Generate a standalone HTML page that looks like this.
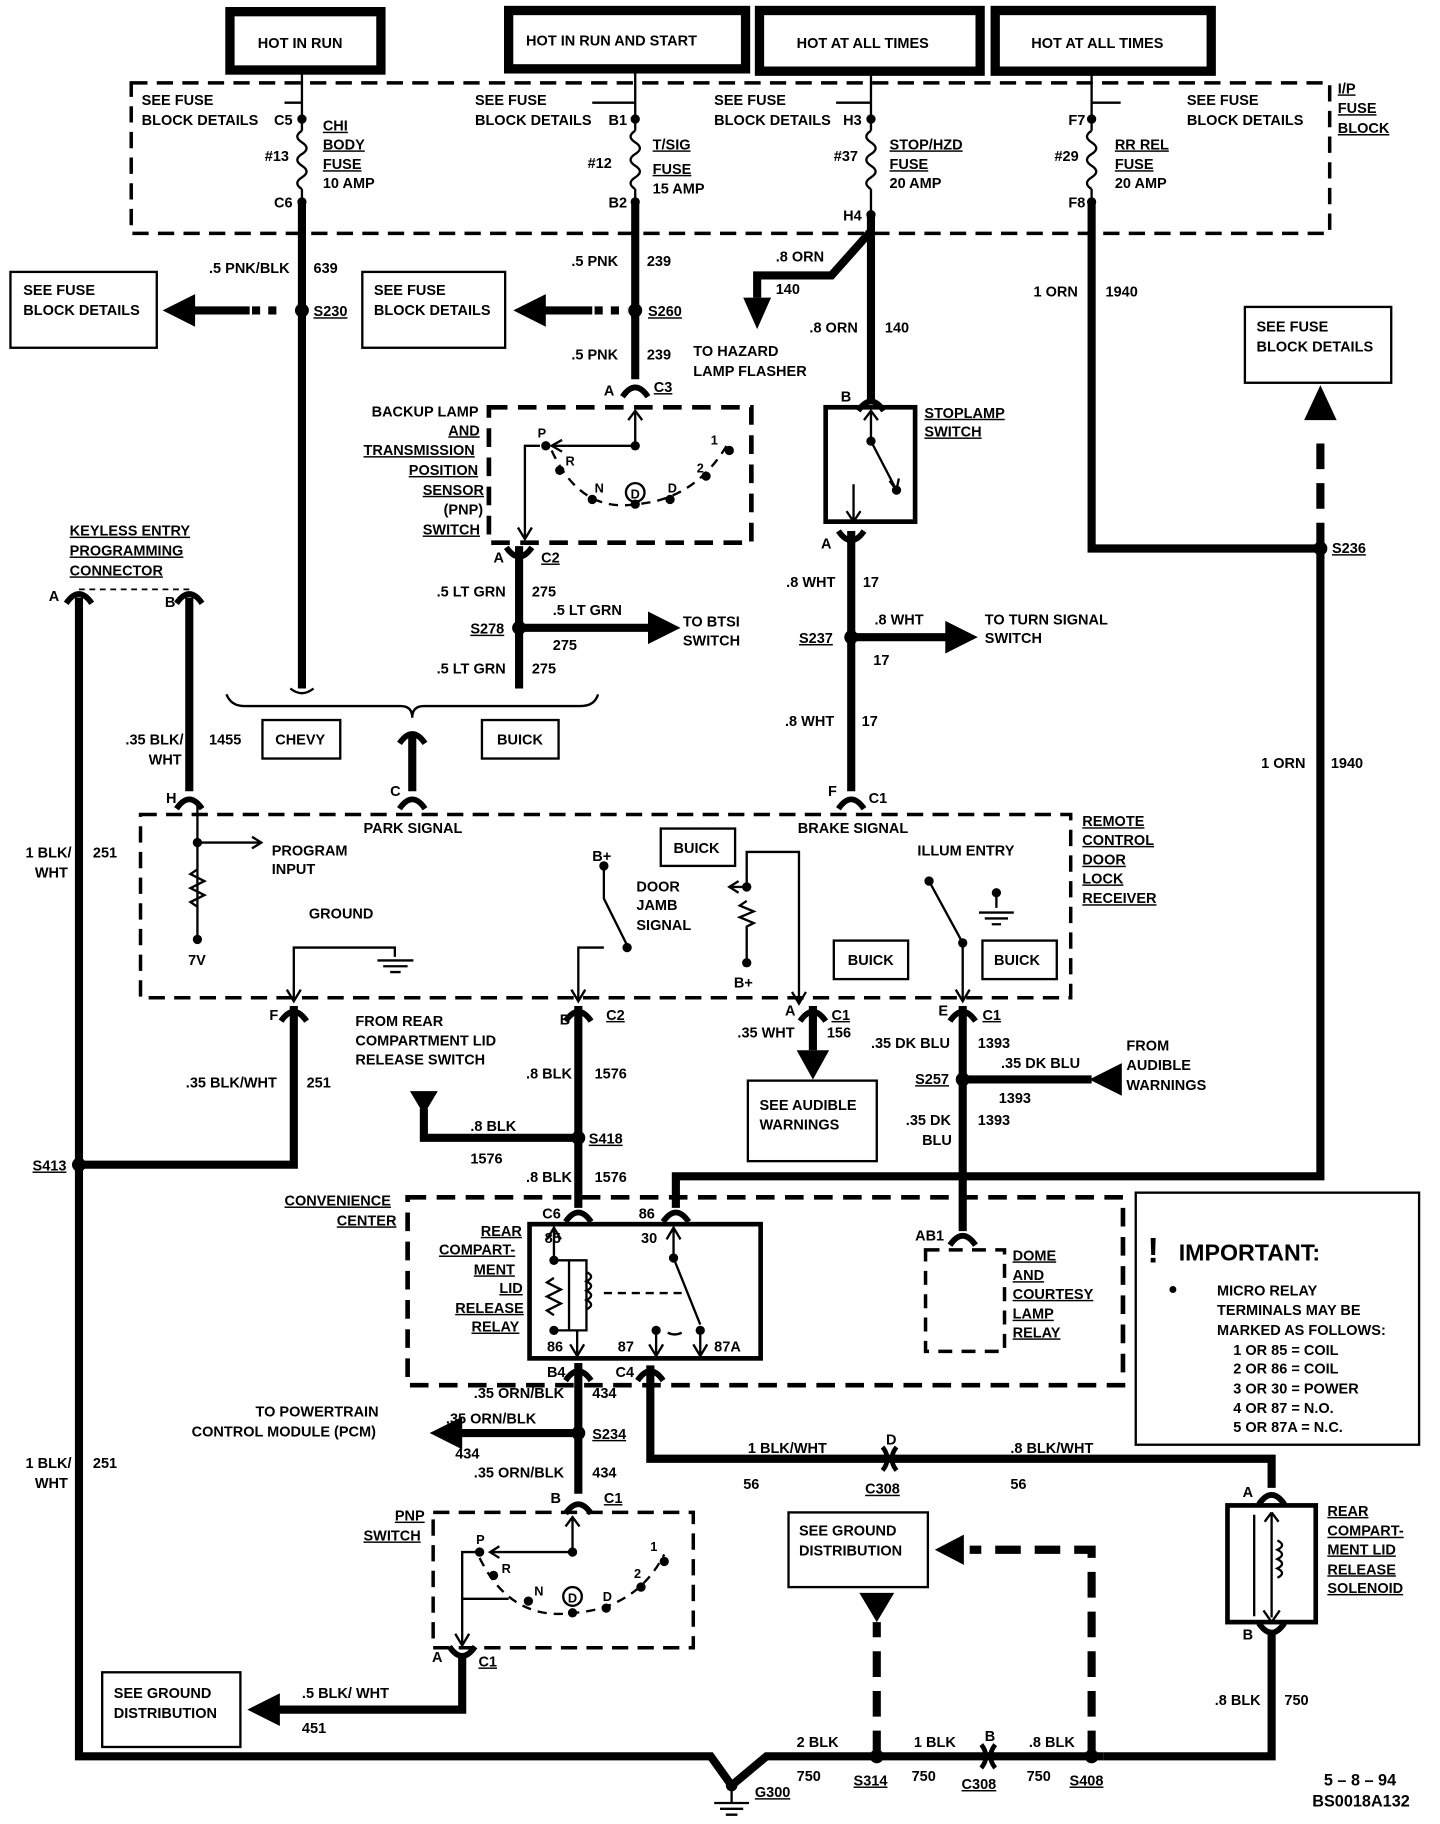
<!DOCTYPE html>
<html><head><meta charset="utf-8"><style>
html,body{margin:0;padding:0;background:#fff}
svg{display:block}
text{font-family:"Liberation Sans",sans-serif;font-weight:bold;font-size:12.5px;fill:#000}
.u{text-decoration:underline}
.s{font-size:11px}
</style></head><body>
<svg width="1440" height="1824" viewBox="0 0 1240 1563" preserveAspectRatio="none" xmlns="http://www.w3.org/2000/svg">
<defs>
<path id="up" d="M-11,7 Q0,-9 11,7" fill="none" stroke="#000" stroke-width="5"/>
<path id="dn" d="M-11,-7 Q0,9 11,-7" fill="none" stroke="#000" stroke-width="5"/>
<path id="fuse" d="M0,0 q-8,5 0,10 q8,5 0,10 q-8,5 0,10 q8,5 0,10 q-8,5 0,10" fill="none" stroke="#000" stroke-width="2"/>
</defs>
<g fill="none" stroke="#000">
<rect x="198" y="10" width="130" height="50" stroke-width="8"/>
<rect x="438" y="9" width="204" height="50" stroke-width="8"/>
<rect x="654" y="9" width="190" height="52" stroke-width="8"/>
<rect x="857" y="9" width="186" height="52" stroke-width="8"/>
<g stroke-width="2">
<line x1="260" y1="62" x2="260" y2="102"/><line x1="547" y1="60" x2="547" y2="102"/>
<line x1="750" y1="61" x2="750" y2="102"/><line x1="940" y1="61" x2="940" y2="102"/>
<line x1="260" y1="102" x2="260" y2="112"/><line x1="260" y1="162" x2="260" y2="173"/>
<line x1="547" y1="102" x2="547" y2="112"/><line x1="547" y1="162" x2="547" y2="173"/>
<line x1="750" y1="102" x2="750" y2="112"/><line x1="750" y1="162" x2="750" y2="184"/>
<line x1="940" y1="102" x2="940" y2="112"/><line x1="940" y1="162" x2="940" y2="173"/>
<line x1="260" y1="88" x2="245" y2="88"/><line x1="547" y1="88" x2="510" y2="88"/>
<line x1="750" y1="88" x2="720" y2="88"/><line x1="940" y1="88" x2="965" y2="88"/>
</g>
<use href="#fuse" x="260" y="112"/><use href="#fuse" x="547" y="112"/><use href="#fuse" x="750" y="112"/><use href="#fuse" x="940" y="112"/>
<rect x="113" y="71" width="1032" height="129" stroke-width="3" stroke-dasharray="14,8"/>
<g stroke-width="7">
<path d="M260,173 V590"/>
<path d="M547,173 V325"/>
<path d="M750,184 V345"/>
<path d="M750,198 L716,236 H652 V255"/>
<path d="M940,173 V470 H1137 V1008 H582 V1035"/>
<path d="M1137,470 V380" stroke-dasharray="22,12"/>
<path d="M447,468 V590"/>
<path d="M447,538 H560"/>
<path d="M733,455 V678"/>
<path d="M733,546 H815"/>
<path d="M355,630 V678"/>
<path d="M163,512 V678"/>
<path d="M68,512 V1505 L612,1505 L630,1530 L660,1505 H950"/>
<path d="M253,862 V998 H68"/>
<path d="M498,862 V1035"/>
<path d="M498,975 H365 V950"/>
<path d="M829,862 V1055"/>
<path d="M829,925 H940"/>
<path d="M700,862 V900"/>
<path d="M498,1168 V1280"/>
<path d="M498,1228 H390"/>
<path d="M560,1170 V1250 H1095 V1275"/>
<path d="M1095,1398 V1505 H950"/>
<path d="M940,1505 V1328 H835" stroke-dasharray="22,12"/>
<path d="M755,1505 V1390" stroke-dasharray="22,12"/>
<path d="M398,1420 V1465 H240"/>
<path d="M245,266 H165"/><path d="M540,266 H465"/>
</g>
<path d="M245,266 H215" stroke="#fff" stroke-width="8" stroke-dasharray="7,7"/>
<path d="M540,266 H510" stroke="#fff" stroke-width="8" stroke-dasharray="7,7"/>
<path d="M68,505 H163" stroke-width="1.5" stroke-dasharray="5,4"/>
<path d="M195,595 q4,10 15,10 H345 q10,0 10,10 q0,-10 10,-10 H500 q12,0 15,-10" stroke-width="2"/>
<path d="M250,590 q10,8 20,0" stroke-width="2"/>
<rect x="226" y="617" width="67" height="33" stroke-width="2"/>
<rect x="415" y="617" width="66" height="33" stroke-width="2"/>
<rect x="9" y="233" width="126" height="65" stroke-width="2"/>
<rect x="312" y="233" width="123" height="65" stroke-width="2"/>
<rect x="1072" y="263" width="126" height="65" stroke-width="2"/>
<rect x="421" y="349" width="226" height="116" stroke-width="4" stroke-dasharray="16,9"/>
<rect x="711" y="349" width="77" height="98" stroke-width="4"/>
<rect x="121" y="698" width="801" height="157" stroke-width="3" stroke-dasharray="14,8"/>
<rect x="569" y="710" width="64" height="32" stroke-width="2"/>
<rect x="718" y="806" width="64" height="33" stroke-width="2"/>
<rect x="846" y="806" width="64" height="33" stroke-width="2"/>
<rect x="644" y="926" width="111" height="69" stroke-width="2"/>
<rect x="351" y="1026" width="616" height="161" stroke-width="4" stroke-dasharray="16,9"/>
<rect x="456" y="1049" width="199" height="115" stroke-width="4"/>
<rect x="797" y="1071" width="68" height="87" stroke-width="3" stroke-dasharray="12,8"/>
<rect x="978" y="1022" width="244" height="216" stroke-width="2"/>
<rect x="373" y="1296" width="224" height="116" stroke-width="3" stroke-dasharray="14,8"/>
<rect x="1057" y="1290" width="76" height="100" stroke-width="4"/>
<rect x="679" y="1296" width="120" height="64" stroke-width="2"/>
<rect x="88" y="1433" width="119" height="64" stroke-width="2"/>
<g stroke-width="2">
<path d="M547,382 V352 M541,360 L547,352 L553,360"/>
<path d="M547,382 H475 M484,377 L475,382 L484,387"/>
<path d="M465,382 H452 V462 M446,452 L452,462 L458,452"/>
<path d="M475,386 Q500,440 548,432 Q600,428 628,378" stroke-dasharray="8,6"/>
<circle cx="547" cy="422" r="8"/>
<path d="M750,352 V378 M744,360 L750,352 L756,360"/>
<path d="M750,378 L772,420 M766,412 L772,420 L774,410"/>
<path d="M735,415 V447 M729,438 L735,447 L741,438"/>
<path d="M170,690 V805 M170,722 H225 M217,717 L225,722 L217,727"/>
<path d="M170,745 l-6,4 l12,6 l-12,6 l12,6 l-12,6 l6,4"/>
<path d="M253,858 V812 H340 V820 M325,823 H356 M330,828 H351 M336,833 H345"/>
<path d="M247,848 L253,858 L259,848"/>
<path d="M520,742 V770 L540,810"/>
<path d="M520,812 H498 V858 M492,848 L498,858 L504,848"/>
<path d="M643,760 V730 H688 V860 M682,850 L688,860 L694,850"/>
<path d="M643,760 H628 M636,755 L628,760 L636,765"/>
<path d="M643,772 l-6,4 l12,5 l-12,5 l12,5 l-6,3 V825"/>
<path d="M800,755 L829,808 V858 M823,848 L829,858 L835,848"/>
<path d="M858,765 V778 M843,782 H873 M848,787 H868 M854,792 H862"/>
<path d="M477,1052 V1080 M471,1062 L477,1052 L483,1062"/>
<path d="M477,1080 H490 V1140 H477 M490,1080 H505 V1140 H490"/>
<path d="M477,1095 l-6,4 l12,6 l-12,6 l12,6 l-12,6 l6,4"/>
<path d="M505,1090 q8,4 0,8 q8,4 0,8 q8,4 0,8 q8,4 0,8"/>
<path d="M497,1140 V1162 M491,1152 L497,1162 L503,1152"/>
<path d="M520,1108 H590" stroke-dasharray="7,5"/>
<path d="M580,1052 V1078 M574,1062 L580,1052 L586,1062"/>
<path d="M580,1078 L603,1135"/>
<path d="M565,1140 V1162 M559,1152 L565,1162 L571,1152"/>
<path d="M603,1140 V1162 M597,1152 L603,1162 L609,1152"/>
<path d="M575,1142 q6,3 12,0"/>
<path d="M493,1330 V1300 M487,1308 L493,1300 L499,1308"/>
<path d="M493,1330 H422 M430,1325 L422,1330 L430,1335"/>
<path d="M413,1330 H398 V1410 M392,1400 L398,1410 L404,1400"/>
<path d="M413,1335 Q440,1390 495,1382 Q548,1378 572,1332" stroke-dasharray="8,6"/>
<circle cx="493" cy="1368" r="8"/>
<path d="M398,1370 H438"/>
<path d="M1095,1298 V1386 M1095,1296 l-6,8 M1095,1296 l6,8 M1088,1380 l7,10 l7,-10"/>
<path d="M1100,1320 q8,4 0,8 q8,4 0,8 q8,4 0,8 q8,4 0,8"/>
<path d="M1080,1298 V1385"/>
<path d="M630,1530 V1545 M615,1545 H645 M620,1550 H640 M625,1555 H635"/>
</g>
<g>
<use href="#up" x="547" y="333"/><use href="#up" x="750" y="345"/><use href="#dn" x="447" y="476"/>
<use href="#dn" x="733" y="462"/><use href="#up" x="68" y="510"/><use href="#up" x="163" y="510"/>
<use href="#up" x="355" y="630"/><use href="#up" x="163" y="686"/><use href="#up" x="355" y="686"/>
<use href="#up" x="733" y="686"/><use href="#up" x="253" y="868"/><use href="#up" x="498" y="868"/>
<use href="#up" x="700" y="868"/><use href="#up" x="829" y="868"/><use href="#up" x="498" y="1040"/>
<use href="#up" x="582" y="1040"/><use href="#up" x="829" y="1060"/><use href="#up" x="498" y="1176"/>
<use href="#up" x="560" y="1176"/><use href="#up" x="498" y="1290"/><use href="#dn" x="398" y="1418"/>
<use href="#up" x="1095" y="1282"/><use href="#dn" x="1095" y="1398"/>
</g>
<path d="M760,1240 q8,10 0,20 M772,1240 q-8,10 0,20" fill="none" stroke="#000" stroke-width="4"/>
<path d="M845,1495 q8,10 0,20 M857,1495 q-8,10 0,20" fill="none" stroke="#000" stroke-width="4"/>
</g>
<g fill="#000">
<polygon points="140,266 168,252 168,280"/><polygon points="442,266 470,252 470,280"/>
<polygon points="640,255 664,255 652,282"/><polygon points="1137,330 1123,360 1151,360"/>
<polygon points="586,538 558,524 558,552"/><polygon points="842,546 814,532 814,560"/>
<polygon points="686,900 714,900 700,925"/><polygon points="938,925 966,911 966,939"/>
<polygon points="353,935 377,935 365,955"/>
<polygon points="370,1228 398,1214 398,1242"/><polygon points="213,1465 241,1451 241,1479"/>
<polygon points="805,1328 830,1315 830,1341"/><polygon points="740,1365 770,1365 755,1390"/>
<circle cx="260" cy="102" r="4"/><circle cx="260" cy="173" r="4"/><circle cx="547" cy="102" r="4"/><circle cx="547" cy="173" r="4"/>
<circle cx="750" cy="102" r="4"/><circle cx="750" cy="184" r="4"/><circle cx="940" cy="102" r="4"/><circle cx="940" cy="173" r="4"/>
<circle cx="260" cy="266" r="6"/><circle cx="547" cy="266" r="6"/><circle cx="447" cy="538" r="6"/><circle cx="733" cy="546" r="6"/>
<circle cx="1137" cy="470" r="6"/><circle cx="68" cy="998" r="6"/><circle cx="498" cy="975" r="6"/><circle cx="829" cy="925" r="6"/>
<circle cx="498" cy="1228" r="6"/><circle cx="755" cy="1505" r="6"/><circle cx="940" cy="1505" r="6"/><circle cx="630" cy="1530" r="5"/>
<circle cx="547" cy="382" r="4"/><circle cx="470" cy="382" r="4"/><circle cx="482" cy="403" r="4"/><circle cx="510" cy="428" r="4"/>
<circle cx="547" cy="432" r="4"/><circle cx="577" cy="428" r="4"/><circle cx="608" cy="408" r="4"/><circle cx="628" cy="386" r="4"/>
<circle cx="750" cy="378" r="4"/><circle cx="772" cy="420" r="4"/><circle cx="170" cy="722" r="4"/><circle cx="170" cy="805" r="4"/>
<circle cx="520" cy="742" r="4"/><circle cx="540" cy="812" r="4"/><circle cx="643" cy="760" r="4"/><circle cx="643" cy="825" r="4"/>
<circle cx="800" cy="755" r="4"/><circle cx="829" cy="808" r="4"/><circle cx="858" cy="765" r="4"/>
<circle cx="477" cy="1080" r="4"/><circle cx="477" cy="1140" r="4"/><circle cx="580" cy="1078" r="4"/><circle cx="565" cy="1140" r="4"/><circle cx="603" cy="1140" r="4"/>
<circle cx="493" cy="1330" r="4"/><circle cx="413" cy="1330" r="4"/><circle cx="425" cy="1350" r="4"/><circle cx="455" cy="1372" r="4"/>
<circle cx="493" cy="1382" r="4"/><circle cx="522" cy="1378" r="4"/><circle cx="552" cy="1360" r="4"/><circle cx="572" cy="1338" r="4"/>
<circle cx="1010" cy="1105" r="3"/>
</g>
<text x="222" y="41">HOT IN RUN</text>
<text x="453" y="39">HOT IN RUN AND START</text>
<text x="686" y="41">HOT AT ALL TIMES</text>
<text x="888" y="41">HOT AT ALL TIMES</text>
<text x="122" y="90">SEE FUSE</text><text x="122" y="107">BLOCK DETAILS</text><text x="236" y="107">C5</text>
<text x="278" y="112" class="u">CHI</text><text x="278" y="128" class="u">BODY</text><text x="278" y="145" class="u">FUSE</text><text x="278" y="161">10 AMP</text>
<text x="228" y="138">#13</text><text x="236" y="178">C6</text>
<text x="409" y="90">SEE FUSE</text><text x="409" y="107">BLOCK DETAILS</text><text x="524" y="107">B1</text>
<text x="562" y="128" class="u">T/SIG</text><text x="562" y="149" class="u">FUSE</text><text x="562" y="166">15 AMP</text>
<text x="506" y="144">#12</text><text x="524" y="178">B2</text>
<text x="615" y="90">SEE FUSE</text><text x="615" y="107">BLOCK DETAILS</text><text x="726" y="107">H3</text>
<text x="766" y="128" class="u">STOP/HZD</text><text x="766" y="145" class="u">FUSE</text><text x="766" y="161">20 AMP</text>
<text x="718" y="138">#37</text><text x="726" y="189">H4</text>
<text x="920" y="107">F7</text><text x="1022" y="90">SEE FUSE</text><text x="1022" y="107">BLOCK DETAILS</text>
<text x="960" y="128" class="u">RR REL</text><text x="960" y="145" class="u">FUSE</text><text x="960" y="161">20 AMP</text>
<text x="908" y="138">#29</text><text x="920" y="178">F8</text>
<text x="1152" y="80" class="u">I/P</text><text x="1152" y="97" class="u">FUSE</text><text x="1152" y="114" class="u">BLOCK</text>
<text x="180" y="234">.5 PNK/BLK</text><text x="270" y="234">639</text>
<text x="20" y="253">SEE FUSE</text><text x="20" y="270">BLOCK DETAILS</text>
<text x="322" y="253">SEE FUSE</text><text x="322" y="270">BLOCK DETAILS</text>
<text x="270" y="271" class="u">S230</text>
<text x="492" y="228">.5 PNK</text><text x="557" y="228">239</text>
<text x="558" y="271" class="u">S260</text>
<text x="492" y="308">.5 PNK</text><text x="557" y="308">239</text>
<text x="520" y="339">A</text><text x="563" y="336" class="u">C3</text>
<text x="668" y="224">.8 ORN</text><text x="668" y="252">140</text>
<text x="697" y="285">.8 ORN</text><text x="762" y="285">140</text>
<text x="597" y="305">TO HAZARD</text><text x="597" y="322">LAMP FLASHER</text>
<text x="890" y="254">1 ORN</text><text x="952" y="254">1940</text>
<text x="1082" y="284">SEE FUSE</text><text x="1082" y="301">BLOCK DETAILS</text>
<text x="320" y="357">BACKUP LAMP</text><text x="386" y="373" class="u">AND</text><text x="313" y="390" class="u">TRANSMISSION</text>
<text x="352" y="407" class="u">POSITION</text><text x="364" y="424" class="u">SENSOR</text><text x="382" y="441">(PNP)</text><text x="364" y="458" class="u">SWITCH</text>
<text x="463" y="375" class="s">P</text><text x="487" y="399" class="s">R</text><text x="512" y="422" class="s">N</text>
<text x="543" y="427" class="s">D</text><text x="575" y="422" class="s">D</text><text x="600" y="405" class="s">2</text><text x="612" y="381" class="s">1</text>
<text x="724" y="344">B</text><text x="796" y="358" class="u">STOPLAMP</text><text x="796" y="374" class="u">SWITCH</text>
<text x="707" y="470">A</text>
<text x="425" y="482">A</text><text x="466" y="482" class="u">C2</text>
<text x="376" y="511">.5 LT GRN</text><text x="458" y="511">275</text>
<text x="476" y="527">.5 LT GRN</text><text x="476" y="557">275</text>
<text x="405" y="543" class="u">S278</text>
<text x="588" y="537">TO BTSI</text><text x="588" y="553">SWITCH</text>
<text x="376" y="577">.5 LT GRN</text><text x="458" y="577">275</text>
<text x="677" y="503">.8 WHT</text><text x="743" y="503">17</text>
<text x="753" y="535">.8 WHT</text><text x="752" y="570">17</text>
<text x="688" y="551" class="u">S237</text>
<text x="848" y="535">TO TURN SIGNAL</text><text x="848" y="551">SWITCH</text>
<text x="676" y="622">.8 WHT</text><text x="742" y="622">17</text>
<text x="1147" y="474" class="u">S236</text>
<text x="60" y="459" class="u">KEYLESS ENTRY</text><text x="60" y="476" class="u">PROGRAMMING</text><text x="60" y="493" class="u">CONNECTOR</text>
<text x="42" y="515">A</text><text x="142" y="520">B</text>
<text x="237" y="638">CHEVY</text><text x="428" y="638">BUICK</text>
<text x="108" y="638">.35 BLK/</text><text x="128" y="655">WHT</text><text x="180" y="638">1455</text>
<text x="1086" y="658">1 ORN</text><text x="1146" y="658">1940</text>
<text x="143" y="688">H</text><text x="336" y="682">C</text><text x="713" y="682">F</text><text x="748" y="688">C1</text>
<text x="313" y="714">PARK SIGNAL</text><text x="687" y="714">BRAKE SIGNAL</text>
<text x="932" y="708" class="u">REMOTE</text><text x="932" y="724" class="u">CONTROL</text><text x="932" y="741" class="u">DOOR</text><text x="932" y="757" class="u">LOCK</text><text x="932" y="774" class="u">RECEIVER</text>
<text x="234" y="733">PROGRAM</text><text x="234" y="749">INPUT</text>
<text x="22" y="735">1 BLK/</text><text x="30" y="752">WHT</text><text x="80" y="735">251</text>
<text x="580" y="731">BUICK</text><text x="790" y="733">ILLUM ENTRY</text>
<text x="510" y="738">B+</text><text x="548" y="764">DOOR</text><text x="548" y="780">JAMB</text><text x="548" y="797">SIGNAL</text>
<text x="266" y="787">GROUND</text><text x="162" y="827">7V</text>
<text x="632" y="846">B+</text><text x="730" y="827">BUICK</text><text x="856" y="827">BUICK</text>
<text x="232" y="874">F</text><text x="482" y="878">B</text><text x="522" y="874" class="u">C2</text>
<text x="676" y="870">A</text><text x="716" y="874" class="u">C1</text><text x="808" y="870">E</text><text x="846" y="874" class="u">C1</text>
<text x="306" y="879">FROM REAR</text><text x="306" y="896">COMPARTMENT LID</text><text x="306" y="912">RELEASE SWITCH</text>
<text x="635" y="889">.35 WHT</text><text x="712" y="889">156</text>
<text x="750" y="898">.35 DK BLU</text><text x="842" y="898">1393</text>
<text x="970" y="900">FROM</text><text x="970" y="917">AUDIBLE</text><text x="970" y="934">WARNINGS</text>
<text x="862" y="915">.35 DK BLU</text><text x="860" y="945">1393</text>
<text x="788" y="929" class="u">S257</text>
<text x="160" y="932">.35 BLK/WHT</text><text x="264" y="932">251</text>
<text x="453" y="924">.8 BLK</text><text x="512" y="924">1576</text>
<text x="654" y="951">SEE AUDIBLE</text><text x="654" y="968">WARNINGS</text>
<text x="780" y="964">.35 DK</text><text x="794" y="981">BLU</text><text x="842" y="964">1393</text>
<text x="405" y="969">.8 BLK</text><text x="405" y="997">1576</text><text x="507" y="980" class="u">S418</text>
<text x="28" y="1003" class="u">S413</text>
<text x="453" y="1013">.8 BLK</text><text x="512" y="1013">1576</text>
<text x="245" y="1033" class="u">CONVENIENCE</text><text x="290" y="1050" class="u">CENTER</text>
<text x="467" y="1044">C6</text><text x="550" y="1044">86</text>
<text x="414" y="1059" class="u">REAR</text><text x="378" y="1075" class="u">COMPART-</text><text x="408" y="1092" class="u">MENT</text>
<text x="430" y="1108" class="u">LID</text><text x="392" y="1125" class="u">RELEASE</text><text x="406" y="1141" class="u">RELAY</text>
<text x="469" y="1065">85</text><text x="552" y="1065">30</text>
<text x="471" y="1158">86</text><text x="532" y="1158">87</text><text x="615" y="1158">87A</text>
<text x="788" y="1063">AB1</text>
<text x="872" y="1080" class="u">DOME</text><text x="872" y="1097" class="u">AND</text><text x="872" y="1113" class="u">COURTESY</text>
<text x="872" y="1130" class="u">LAMP</text><text x="872" y="1146" class="u">RELAY</text>
<text x="988" y="1082" style="font-size:30px">!</text><text x="1015" y="1080" style="font-size:20px">IMPORTANT:</text>
<text x="1048" y="1110">MICRO RELAY</text><text x="1048" y="1127">TERMINALS MAY BE</text>
<text x="1048" y="1144">MARKED AS FOLLOWS:</text>
<text x="1062" y="1161">1 OR 85 = COIL</text><text x="1062" y="1177">2 OR 86 = COIL</text>
<text x="1062" y="1194">3 OR 30 = POWER</text><text x="1062" y="1211">4 OR 87 = N.O.</text>
<text x="1062" y="1227">5 OR 87A = N.C.</text>
<text x="471" y="1180">B4</text><text x="530" y="1180">C4</text>
<text x="408" y="1198">.35 ORN/BLK</text><text x="510" y="1198">434</text>
<text x="220" y="1214">TO POWERTRAIN</text><text x="165" y="1231">CONTROL MODULE (PCM)</text>
<text x="384" y="1220">.35 ORN/BLK</text><text x="392" y="1250">434</text><text x="510" y="1233" class="u">S234</text>
<text x="408" y="1266">.35 ORN/BLK</text><text x="510" y="1266">434</text>
<text x="22" y="1258">1 BLK/</text><text x="30" y="1275">WHT</text><text x="80" y="1258">251</text>
<text x="644" y="1245">1 BLK/WHT</text><text x="640" y="1276">56</text>
<text x="763" y="1238">D</text><text x="745" y="1280" class="u">C308</text>
<text x="870" y="1245">.8 BLK/WHT</text><text x="870" y="1276">56</text>
<text x="474" y="1288">B</text><text x="520" y="1288" class="u">C1</text>
<text x="340" y="1303" class="u">PNP</text><text x="313" y="1320" class="u">SWITCH</text>
<text x="410" y="1323" class="s">P</text><text x="432" y="1348" class="s">R</text><text x="460" y="1367" class="s">N</text>
<text x="489" y="1373" class="s">D</text><text x="519" y="1372" class="s">D</text><text x="546" y="1352" class="s">2</text><text x="560" y="1329" class="s">1</text>
<text x="688" y="1316">SEE GROUND</text><text x="688" y="1333">DISTRIBUTION</text>
<text x="1070" y="1283">A</text><text x="1070" y="1405">B</text>
<text x="1143" y="1299" class="u">REAR</text><text x="1143" y="1316" class="u">COMPART-</text><text x="1143" y="1332" class="u">MENT LID</text>
<text x="1143" y="1349" class="u">RELEASE</text><text x="1143" y="1365" class="u">SOLENOID</text>
<text x="372" y="1424">A</text><text x="412" y="1428" class="u">C1</text>
<text x="98" y="1455">SEE GROUND</text><text x="98" y="1472">DISTRIBUTION</text>
<text x="260" y="1455">.5 BLK/ WHT</text><text x="260" y="1485">451</text>
<text x="1046" y="1461">.8 BLK</text><text x="1106" y="1461">750</text>
<text x="686" y="1497">2 BLK</text><text x="686" y="1526">750</text><text x="735" y="1530" class="u">S314</text>
<text x="787" y="1497">1 BLK</text><text x="785" y="1526">750</text>
<text x="848" y="1492">B</text><text x="828" y="1533" class="u">C308</text>
<text x="886" y="1497">.8 BLK</text><text x="884" y="1526">750</text><text x="921" y="1530" class="u">S408</text>
<text x="650" y="1540" class="u">G300</text>
<text x="1140" y="1530" style="font-size:14px">5 – 8 – 94</text><text x="1130" y="1548" style="font-size:14px">BS0018A132</text>
</svg>
</body></html>
